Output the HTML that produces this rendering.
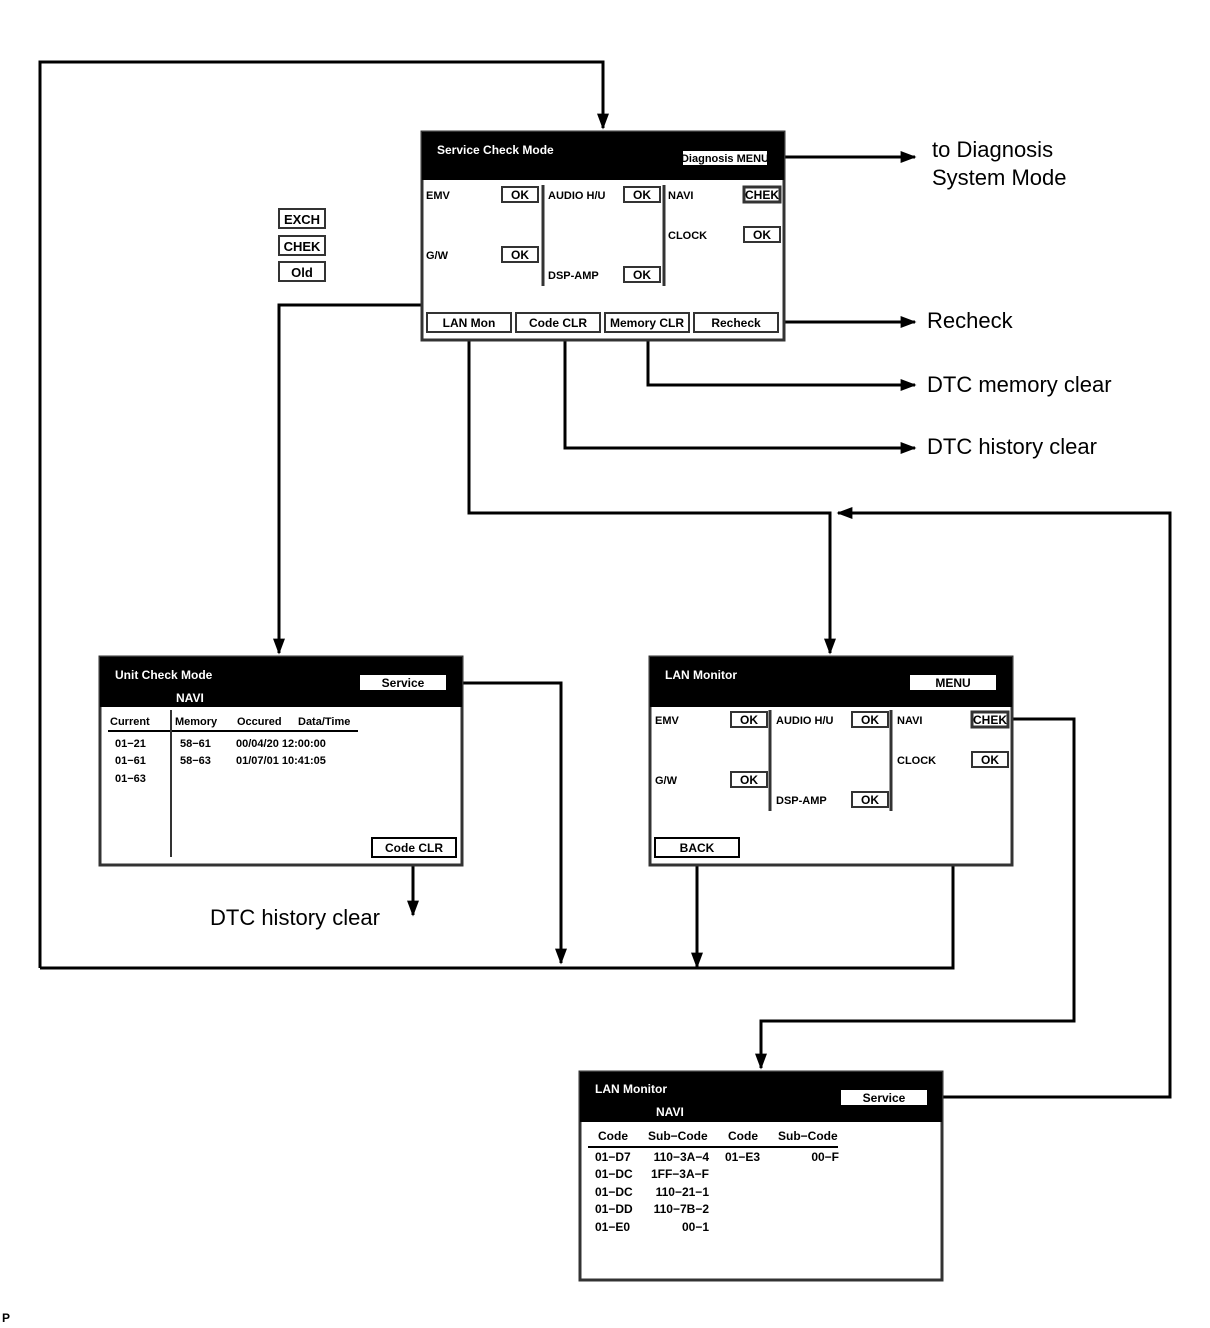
<!DOCTYPE html>
<html><head><meta charset="utf-8"><style>body{margin:0;background:#fff}svg{display:block}</style></head><body>
<svg width="1210" height="1328" viewBox="0 0 1210 1328" xmlns="http://www.w3.org/2000/svg" font-family="Liberation Sans, sans-serif">
<defs><marker id="a" viewBox="0 0 10 10" refX="9" refY="5" markerWidth="7" markerHeight="7" orient="auto" markerUnits="userSpaceOnUse"><path d="M0,0 L10,5 L0,10z" fill="#000"/></marker>
<marker id="b" viewBox="0 0 10 10" refX="9" refY="5" markerWidth="16" markerHeight="12" orient="auto" markerUnits="userSpaceOnUse" preserveAspectRatio="none"><path d="M0,0 L10,5 L0,10z" fill="#000"/></marker></defs>
<g fill="none" stroke="#000" stroke-width="3">
<polyline points="40,968 40,62 603,62 603,128" marker-end="url(#b)"/>
<polyline points="40,968 953,968 953,692"/>
<polyline points="768,157 915,157" marker-end="url(#b)"/>
<polyline points="778,322 915,322" marker-end="url(#b)"/>
<polyline points="648,333 648,385 915,385" marker-end="url(#b)"/>
<polyline points="565,333 565,448 915,448" marker-end="url(#b)"/>
<polyline points="469,333 469,513 830,513 830,653" marker-end="url(#b)"/>
<polyline points="928,1097 1170,1097 1170,513 838,513" marker-end="url(#b)"/>
<polyline points="744,194 718,194 718,305 279,305 279,653" marker-end="url(#b)"/>
<polyline points="447,683 561,683 561,963" marker-end="url(#b)"/>
<polyline points="413,857 413,915" marker-end="url(#b)"/>
<polyline points="697,857 697,967" marker-end="url(#b)"/>
<polyline points="1008,719 1074,719 1074,1021 761,1021 761,1068" marker-end="url(#b)"/>
</g>
<!-- Service Check Mode -->
<rect x="422" y="132" width="362" height="208" fill="#fff" stroke="#333" stroke-width="3"/>
<rect x="422" y="132" width="362" height="48" fill="#000"/>
<text x="437" y="154" fill="#fff" font-size="12" font-weight="bold">Service Check Mode</text>
<rect x="682" y="150" width="86" height="16" fill="#fff" stroke="#000" stroke-width="2"/>
<text x="725" y="162" font-size="11" font-weight="bold" text-anchor="middle">Diagnosis MENU</text>
<g font-size="11" font-weight="bold">
<text x="426" y="199">EMV</text><text x="548" y="199">AUDIO H/U</text><text x="668" y="199">NAVI</text>
<text x="668" y="239">CLOCK</text><text x="426" y="259">G/W</text><text x="548" y="279">DSP-AMP</text>
</g>
<g stroke="#333" stroke-width="2" fill="#fff">
<rect x="502" y="187" width="36" height="15"/><rect x="624" y="187" width="36" height="15"/><rect x="744" y="187" width="36" height="15" stroke-width="3"/>
<rect x="744" y="227" width="36" height="15"/><rect x="502" y="247" width="36" height="15"/><rect x="624" y="267" width="36" height="15"/>
<line x1="543" y1="185" x2="543" y2="286" stroke-width="3"/><line x1="664" y1="185" x2="664" y2="286" stroke-width="3"/>
<rect x="427" y="313" width="84" height="19"/><rect x="516" y="313" width="84" height="19"/><rect x="605" y="313" width="84" height="19"/><rect x="694" y="313" width="84" height="19"/>
</g>
<g font-size="12" font-weight="bold" text-anchor="middle">
<text x="520" y="199">OK</text><text x="642" y="199">OK</text><text x="762" y="199">CHEK</text><text x="762" y="239">OK</text><text x="520" y="259">OK</text><text x="642" y="279">OK</text>
<text x="469" y="327">LAN Mon</text><text x="558" y="327">Code CLR</text><text x="647" y="327">Memory CLR</text><text x="736" y="327">Recheck</text>
</g>
<g font-size="22">
<text x="932" y="157">to Diagnosis</text><text x="932" y="185">System Mode</text>
<text x="927" y="328">Recheck</text><text x="927" y="392">DTC memory clear</text><text x="927" y="454">DTC history clear</text>
<text x="210" y="925">DTC history clear</text>
</g>
<g stroke="#333" stroke-width="2" fill="#fff">
<rect x="279" y="209" width="46" height="19"/><rect x="279" y="236" width="46" height="19"/><rect x="279" y="262" width="46" height="19"/>
</g>
<g font-size="13" font-weight="bold" text-anchor="middle">
<text x="302" y="224">EXCH</text><text x="302" y="251">CHEK</text><text x="302" y="277">Old</text>
</g>
<!-- Unit Check Mode -->
<rect x="100" y="657" width="362" height="208" fill="#fff" stroke="#333" stroke-width="3"/>
<rect x="100" y="657" width="362" height="50" fill="#000"/>
<text x="115" y="679" fill="#fff" font-size="12" font-weight="bold">Unit Check Mode</text>
<text x="176" y="702" fill="#fff" font-size="12" font-weight="bold">NAVI</text>
<rect x="359" y="674" width="88" height="17" fill="#fff" stroke="#000" stroke-width="2"/>
<text x="403" y="687" font-size="12" font-weight="bold" text-anchor="middle">Service</text>
<g font-size="11" font-weight="bold">
<text x="110" y="725">Current</text><text x="175" y="725">Memory</text><text x="237" y="725">Occured</text><text x="298" y="725">Data/Time</text>
<text x="115" y="747">01−21</text><text x="115" y="764">01−61</text><text x="115" y="782">01−63</text>
<text x="180" y="747">58−61</text><text x="180" y="764">58−63</text>
<text x="236" y="747">00/04/20 12:00:00</text><text x="236" y="764">01/07/01 10:41:05</text>
</g>
<line x1="108" y1="731" x2="358" y2="731" stroke="#000" stroke-width="2"/>
<line x1="171" y1="710" x2="171" y2="857" stroke="#333" stroke-width="2"/>
<rect x="372" y="838" width="84" height="19" fill="#fff" stroke="#000" stroke-width="2"/>
<text x="414" y="852" font-size="12" font-weight="bold" text-anchor="middle">Code CLR</text>
<!-- LAN Monitor -->
<rect x="650" y="657" width="362" height="208" fill="#fff" stroke="#333" stroke-width="3"/>
<rect x="650" y="657" width="362" height="50" fill="#000"/>
<text x="665" y="679" fill="#fff" font-size="12" font-weight="bold">LAN Monitor</text>
<rect x="909" y="674" width="88" height="17" fill="#fff" stroke="#000" stroke-width="2"/>
<text x="953" y="687" font-size="12" font-weight="bold" text-anchor="middle">MENU</text>
<g font-size="11" font-weight="bold">
<text x="655" y="724">EMV</text><text x="776" y="724">AUDIO H/U</text><text x="897" y="724">NAVI</text>
<text x="897" y="764">CLOCK</text><text x="655" y="784">G/W</text><text x="776" y="804">DSP-AMP</text>
</g>
<g stroke="#333" stroke-width="2" fill="#fff">
<rect x="731" y="712" width="36" height="15"/><rect x="852" y="712" width="36" height="15"/><rect x="972" y="712" width="36" height="15" stroke-width="3"/>
<rect x="972" y="752" width="36" height="15"/><rect x="731" y="772" width="36" height="15"/><rect x="852" y="792" width="36" height="15"/>
<line x1="770" y1="710" x2="770" y2="811" stroke-width="3"/><line x1="891" y1="710" x2="891" y2="811" stroke-width="3"/>
<rect x="655" y="838" width="84" height="19" stroke="#000"/>
</g>
<g font-size="12" font-weight="bold" text-anchor="middle">
<text x="749" y="724">OK</text><text x="870" y="724">OK</text><text x="990" y="724">CHEK</text><text x="990" y="764">OK</text><text x="749" y="784">OK</text><text x="870" y="804">OK</text>
<text x="697" y="852">BACK</text>
</g>
<!-- LAN Monitor NAVI -->
<rect x="580" y="1072" width="362" height="208" fill="#fff" stroke="#333" stroke-width="3"/>
<rect x="580" y="1072" width="362" height="50" fill="#000"/>
<text x="595" y="1093" fill="#fff" font-size="12" font-weight="bold">LAN Monitor</text>
<text x="656" y="1116" fill="#fff" font-size="12" font-weight="bold">NAVI</text>
<rect x="840" y="1089" width="88" height="17" fill="#fff" stroke="#000" stroke-width="2"/>
<text x="884" y="1102" font-size="12" font-weight="bold" text-anchor="middle">Service</text>
<g font-size="12" font-weight="bold">
<text x="598" y="1140">Code</text><text x="648" y="1140">Sub−Code</text><text x="728" y="1140">Code</text><text x="778" y="1140">Sub−Code</text>
<text x="595" y="1161">01−D7</text><text x="595" y="1178">01−DC</text><text x="595" y="1196">01−DC</text><text x="595" y="1213">01−DD</text><text x="595" y="1231">01−E0</text>
<text x="725" y="1161">01−E3</text>
</g>
<g font-size="12" font-weight="bold" text-anchor="end">
<text x="709" y="1161">110−3A−4</text><text x="709" y="1178">1FF−3A−F</text><text x="709" y="1196">110−21−1</text><text x="709" y="1213">110−7B−2</text><text x="709" y="1231">00−1</text>
<text x="839" y="1161">00−F</text>
</g>
<line x1="588" y1="1147" x2="838" y2="1147" stroke="#000" stroke-width="2"/>
<text x="2" y="1322" font-size="12" font-weight="bold">P</text>
</svg>
</body></html>
